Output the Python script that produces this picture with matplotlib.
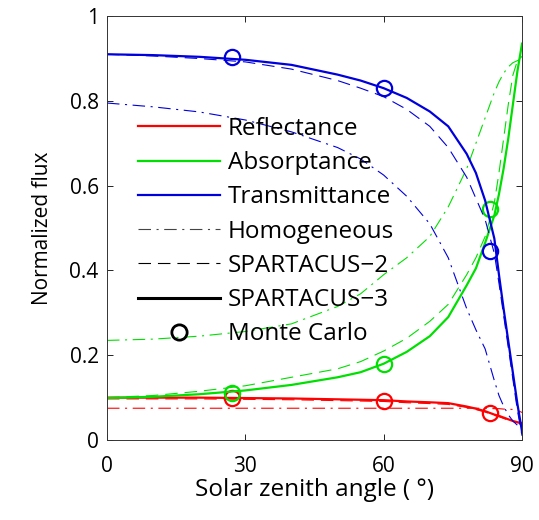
import numpy as np
import matplotlib
matplotlib.use('Agg')
import matplotlib.pyplot as plt
from matplotlib.lines import Line2D

plt.rcParams['font.family'] = ['Open Sans', 'DejaVu Sans']
plt.rcParams['lines.scale_dashes'] = False

angle = [0, 10, 20, 30, 40, 50, 55, 60, 65, 70, 74, 78, 80, 82, 84, 85, 86, 87, 88, 89, 90]

# SPARTACUS-3 (solid)
refl_s3 = [0.100, 0.100, 0.100, 0.099, 0.098, 0.096, 0.095, 0.094, 0.091, 0.089, 0.087, 0.079,
           0.074, 0.068, 0.060, 0.057, 0.053, 0.049, 0.045, 0.042, 0.040]
abs_s3 = [0.099, 0.102, 0.108, 0.117, 0.130, 0.148, 0.160, 0.180, 0.208, 0.245, 0.290, 0.365,
          0.405, 0.465, 0.530, 0.580, 0.640, 0.710, 0.790, 0.870, 0.935]
trans_s3 = [0.910, 0.908, 0.904, 0.897, 0.885, 0.862, 0.848, 0.830, 0.807, 0.775, 0.740, 0.675,
            0.630, 0.565, 0.475, 0.390, 0.310, 0.235, 0.160, 0.085, 0.020]

# SPARTACUS-2 (dashed)
refl_s2 = [0.097, 0.097, 0.097, 0.096, 0.095, 0.093, 0.092, 0.091, 0.088, 0.086, 0.084, 0.077,
           0.072, 0.066, 0.058, 0.055, 0.051, 0.047, 0.044, 0.041, 0.039]
abs_s2 = [0.100, 0.105, 0.115, 0.128, 0.148, 0.168, 0.185, 0.210, 0.240, 0.280, 0.320, 0.390,
          0.430, 0.480, 0.560, 0.630, 0.710, 0.790, 0.860, 0.895, 0.905]
trans_s2 = [0.910, 0.906, 0.900, 0.892, 0.875, 0.848, 0.830, 0.810, 0.780, 0.740, 0.690, 0.620,
            0.570, 0.520, 0.440, 0.370, 0.295, 0.220, 0.145, 0.070, 0.010]

# Homogeneous (dash-dot)
refl_hom = [0.075, 0.075, 0.075, 0.075, 0.075, 0.075, 0.075, 0.075, 0.075, 0.075, 0.075, 0.075,
            0.075, 0.075, 0.074, 0.074, 0.073, 0.073, 0.072, 0.070, 0.065]
abs_hom = [0.235, 0.238, 0.245, 0.256, 0.274, 0.315, 0.345, 0.390, 0.430, 0.480, 0.550, 0.640,
           0.700, 0.760, 0.820, 0.845, 0.865, 0.880, 0.890, 0.895, 0.900]
trans_hom = [0.795, 0.786, 0.774, 0.755, 0.727, 0.690, 0.663, 0.625, 0.575, 0.510, 0.430, 0.310,
             0.260, 0.215, 0.140, 0.105, 0.080, 0.060, 0.045, 0.035, 0.030]

# Monte Carlo
mc_angle = [27, 60, 83]
refl_mc = [0.100, 0.093, 0.063]
abs_mc = [0.110, 0.180, 0.545]
trans_mc = [0.903, 0.830, 0.445]

red = '#ff0000'
green = '#00e000'
blue = '#0000dd'
dash = (9, 5)
dashdot = (9, 4, 1.5, 4)

fig = plt.figure(figsize=(5.39, 5.2), dpi=100)
ax = fig.add_axes([0.1985, 0.1538, 0.77, 0.8152])

for col, hom, s2, s3, mc in [(red, refl_hom, refl_s2, refl_s3, refl_mc),
                             (green, abs_hom, abs_s2, abs_s3, abs_mc),
                             (blue, trans_hom, trans_s2, trans_s3, trans_mc)]:
    ax.plot(angle, hom, color=col, lw=0.8, dashes=dashdot)
    ax.plot(angle, s2, color=col, lw=0.8, dashes=dash)
    ax.plot(angle, s3, color=col, lw=1.6)
    ax.plot(mc_angle, mc, 'o', color=col, mfc='none', ms=11, mew=1.6)

ax.set_xlim(0, 90)
ax.set_ylim(0, 1)
ax.set_xticks([0, 30, 60, 90])
ax.set_yticks([0, 0.2, 0.4, 0.6, 0.8, 1])
ax.set_yticklabels(['0', '0.2', '0.4', '0.6', '0.8', '1'])
ax.tick_params(direction='in', top=True, right=True, labelsize=15, length=4, width=0.6)
ax.tick_params(axis='y', pad=6)
ax.tick_params(axis='x', pad=11.5)
for s in ax.spines.values():
    s.set_linewidth(0.7)
    s.set_color('#333333')
ax.set_xlabel('Solar zenith angle ( °)', fontsize=17.5, labelpad=1)
ax.set_ylabel('Normalized flux', fontsize=15, labelpad=12)

handles = [Line2D([], [], color=red, lw=1.6),
           Line2D([], [], color=green, lw=1.6),
           Line2D([], [], color=blue, lw=1.6),
           Line2D([], [], color='#444444', lw=0.8, dashes=dashdot),
           Line2D([], [], color='black', lw=0.8, dashes=dash),
           Line2D([], [], color='black', lw=2.2),
           Line2D([], [], color='black', ls='none', marker='o', mfc='none', ms=11, mew=2)]
labels = ['Reflectance', 'Absorptance', 'Transmittance', 'Homogeneous',
          'SPARTACUS\u22122', 'SPARTACUS\u22123', 'Monte Carlo']
ax.legend(handles, labels, loc='upper left', bbox_to_anchor=(0.051, 0.785), frameon=False,
          fontsize=17.5, handlelength=3.37, handletextpad=0.33, labelspacing=0.42,
          borderaxespad=0)

fig.savefig('out.png', dpi=100)
